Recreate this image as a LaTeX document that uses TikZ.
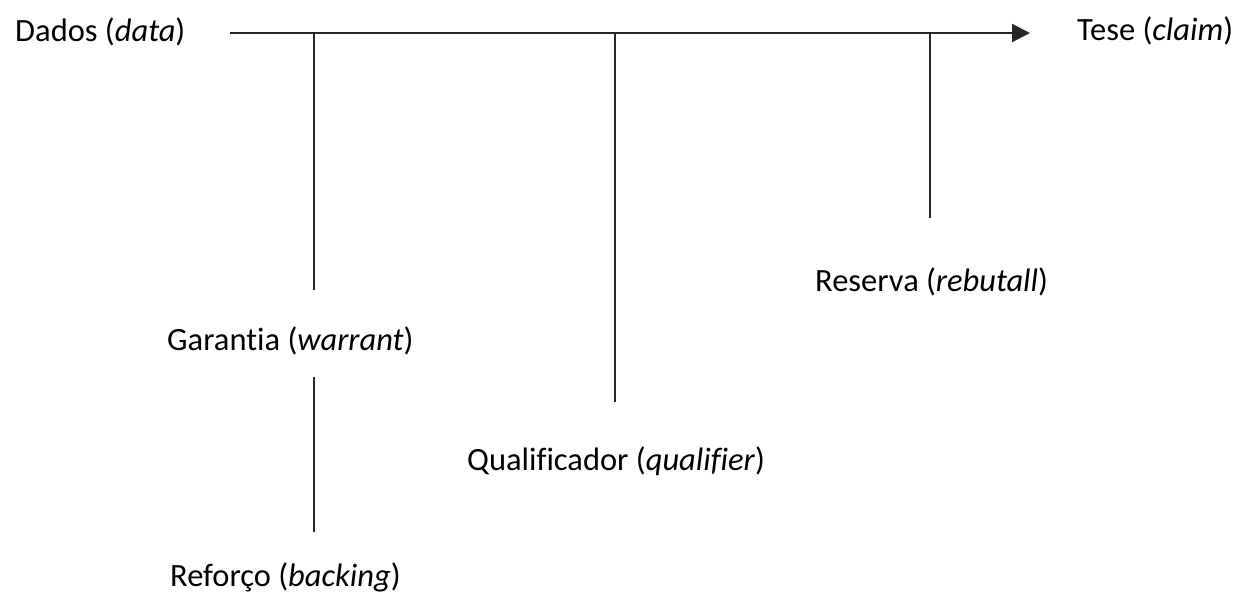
\documentclass[tikz,border=0pt]{standalone}
\usepackage{fontspec}
\setmainfont{Carlito}[Ligatures=NoCommon]
\usetikzlibrary{arrows.meta}
\begin{document}
\begin{tikzpicture}[x=1pt,y=-1pt,
  lbl/.style={font=\fontsize{32.5}{38}\selectfont, inner sep=0pt, anchor=west},
  conn/.style={line width=2pt, draw=black!85},
  axis/.style={conn, -{Triangle[length=18pt,width=18pt]}}]
\useasboundingbox (0,0) rectangle (1247,595);
\node[lbl] (data) at (15,32) {Dados (\textit{data})};
\node[lbl] (claim) at (1077,31) {Tese (\textit{claim})};
\node[lbl] (warrant) at (167,341) {Garantia (\textit{warrant})};
\node[lbl] (backing) at (170,577) {Reforço (\textit{backing})};
\node[lbl] (qualifier) at (467,461) {Qualificador (\textit{qualifier})};
\node[lbl] (rebuttal) at (815,282) {Reserva (\textit{rebutall})};
\coordinate (a0) at (230,33);
\coordinate (a1) at (1030,33);
\coordinate (w0) at (314,33);
\coordinate (w1) at (314,290);
\coordinate (b0) at (314,377);
\coordinate (b1) at (314,532);
\coordinate (q0) at (615,33);
\coordinate (q1) at (615,402);
\coordinate (r0) at (930,33);
\coordinate (r1) at (930,218);
\draw[axis] (a0) -- (a1);
\draw[conn] (w0) -- (w1);
\draw[conn] (b0) -- (b1);
\draw[conn] (q0) -- (q1);
\draw[conn] (r0) -- (r1);
\end{tikzpicture}
\end{document}
